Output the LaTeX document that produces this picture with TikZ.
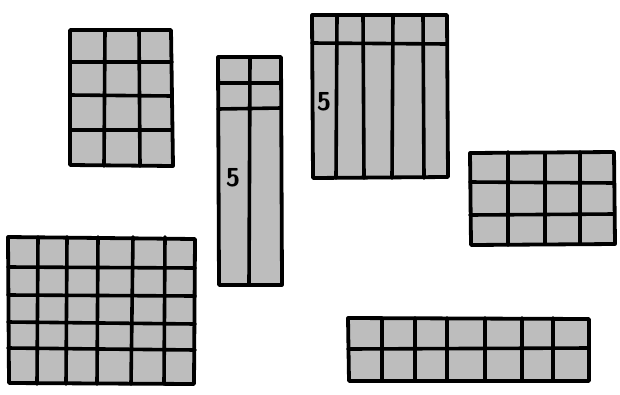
\documentclass[tikz,border=0pt]{standalone}
\begin{document}
\begin{tikzpicture}[x=1pt,y=-1pt,
  cellfill/.style={fill=black!26},
  frame/.style={draw=black,line width=3.8pt,line join=round,line cap=round},
  bar/.style={draw=black,line width=3.6pt,line cap=round},
  digit/.style={font=\sffamily\bfseries\fontsize{26}{26}\selectfont,inner sep=0pt}]
\useasboundingbox (0,0) rectangle (620,394);
% Grid A: 3x4
\fill[cellfill] (70,30) rectangle (172,166);
\draw[bar] (105,30) -- (104,166) (139,30) -- (140,166)
           (70,62) -- (172,62) (70,95) -- (172,96) (70,130) -- (172,130);
\draw[frame] (70,30) -- (171,30) -- (173,166) -- (70,165) -- cycle;
% Grid B: tall narrow
\fill[cellfill] (218,57) rectangle (281,285);
\draw[bar] (250,57) -- (249,285) (218,83) -- (281,83) (218,109) -- (281,108);
\draw[frame] (218,57) -- (281,57) -- (282,285) -- (219,285) -- cycle;
\node[digit] (fiveB) at (233,178) {5};
% Grid C
\fill[cellfill] (312,15) rectangle (447,178);
\draw[bar] (337,15) -- (336,178) (363,15) -- (364,178) (393,15) -- (392,178)
           (423,15) -- (424,178) (312,43) -- (447,44);
\draw[frame] (312,15) -- (447,15) -- (448,177) -- (313,178) -- cycle;
\node[digit] (fiveC) at (324,102) {5};
% Grid D: 4x3
\fill[cellfill] (470,152) rectangle (615,245);
\draw[bar] (508,152) -- (508,245) (545,153) -- (545,244) (580,152) -- (580,244)
           (470,182) -- (614,183) (470,215) -- (614,214);
\draw[frame] (470,153) -- (614,152) -- (615,244) -- (471,245) -- cycle;
% Grid E: 6x5
\fill[cellfill] (8,237) rectangle (195,384);
\draw[bar] (38,237) -- (37,384) (67,237) -- (66,384) (98,237) -- (97,384)
           (133,237) -- (131,384) (165,237) -- (164,384)
           (8,267) -- (195,268) (8,295) -- (195,296) (8,322) -- (195,324) (8,348) -- (195,350);
\draw[frame] (8,237) -- (195,239) -- (194,384) -- (9,383) -- cycle;
% Grid F: 7x2
\fill[cellfill] (348,318) rectangle (589,381);
\draw[bar] (382,318) -- (382,381) (415,318) -- (415,381) (447,318) -- (447,381)
           (485,318) -- (485,381) (522,318) -- (522,381) (553,318) -- (553,381)
           (348,349) -- (589,348);
\draw[frame] (348,318) -- (589,319) -- (589,381) -- (349,381) -- cycle;
\end{tikzpicture}
\end{document}
